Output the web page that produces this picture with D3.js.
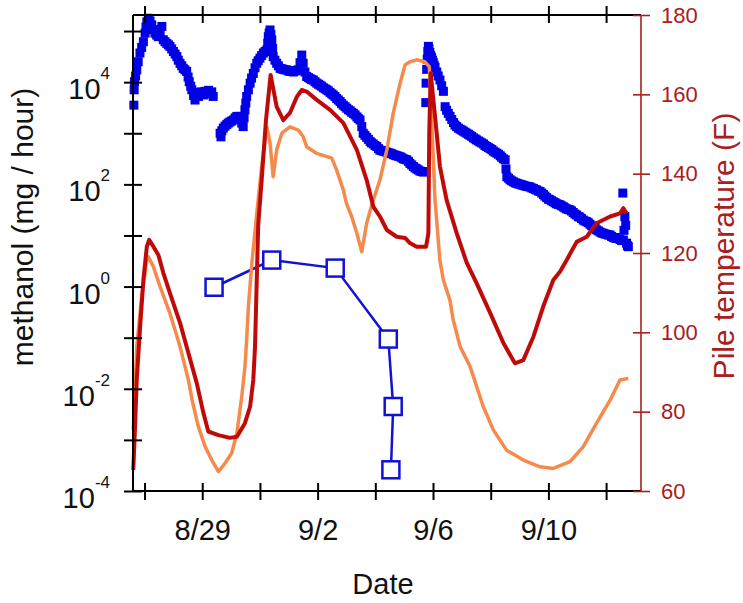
<!DOCTYPE html>
<html>
<head>
<meta charset="utf-8">
<script src="https://cdn.jsdelivr.net/npm/d3@7/dist/d3.min.js"></script>
<style>
  body { margin: 0; background: #ffffff; }
  text { font-family: Arial, "Liberation Sans", sans-serif; }
</style>
</head>
<body>
<div class="chart"></div>
<script>
// x values are days counted from 8/27 00:00
var dateTicks = [0, 2, 4, 6, 8, 10, 12, 14, 16];
var dateLabels = ["", "8/29", "", "9/2", "", "9/6", "", "9/10", ""];
var decadeTicks = [1e-4, 1e-3, 1e-2, 1e-1, 1e0, 1e1, 1e2, 1e3, 1e4, 1e5];
var decadeLabels = [-4, -2, 0, 2, 4];
var tempTicks = [60, 80, 100, 120, 140, 160, 180];

// continuous methanol emission (filled squares), [day, mg/hour]
var methanolFlux = [
  [-0.37, 3550], [-0.36, 7080], [-0.35, 10200], [-0.31, 13200], [-0.27, 17400], [-0.22, 25100],
  [-0.16, 37200], [-0.10, 47900], [-0.04, 61700], [0.02, 91200], [0.05, 120000], [0.08, 151000],
  [0.13, 178000], [0.19, 158000], [0.25, 132000], [0.31, 107000], [0.36, 91200], [0.42, 83200],
  [0.48, 77600], [0.54, 89100], [0.60, 123000], [0.65, 67600], [0.71, 61700], [0.77, 57500],
  [0.83, 53700], [0.88, 50100], [0.94, 44700], [1.00, 39800], [1.06, 35500], [1.12, 31600],
  [1.17, 26900], [1.23, 23400], [1.29, 20900], [1.34, 18600], [1.40, 17400], [1.46, 16200],
  [1.51, 12600], [1.55, 10200], [1.60, 8320], [1.64, 7080], [1.70, 5500], [1.75, 4470],
  [1.81, 6030], [1.87, 5250], [1.92, 6310], [1.98, 6460], [2.04, 5620], [2.10, 6610],
  [2.16, 6030], [2.22, 6920], [2.27, 5890], [2.33, 6460], [2.38, 5250],
  [2.62, 1000], [2.65, 851], [2.68, 1120], [2.73, 1260], [2.79, 1380], [2.85, 1480],
  [2.90, 1580], [2.96, 1660], [3.02, 1740], [3.08, 1820], [3.14, 2000], [3.20, 2140],
  [3.25, 2000], [3.31, 2140], [3.37, 1580], [3.42, 1350], [3.45, 2000], [3.48, 2880],
  [3.51, 3890], [3.54, 5250], [3.60, 7080], [3.66, 9550], [3.71, 12000], [3.77, 14800],
  [3.83, 19100], [3.89, 23400], [3.94, 26300], [4.00, 29500], [4.06, 33100], [4.12, 37200],
  [4.18, 39800], [4.24, 42700], [4.27, 57500], [4.29, 77600], [4.32, 91200], [4.35, 105000],
  [4.38, 85100], [4.41, 67600], [4.44, 45700], [4.46, 31600], [4.52, 26900], [4.58, 23400],
  [4.64, 20900], [4.70, 18600], [4.76, 18200], [4.81, 17800], [4.87, 17400], [4.93, 17400],
  [4.99, 16600], [5.04, 16200], [5.10, 16200], [5.16, 15800], [5.22, 16600], [5.28, 17000],
  [5.33, 17400], [5.39, 24000], [5.45, 33900], [5.50, 23400], [5.56, 15800], [5.62, 12900],
  [5.68, 12300], [5.74, 11700], [5.79, 11200], [5.85, 11000], [5.91, 10200], [5.97, 9550],
  [6.03, 9120], [6.08, 8710], [6.14, 8320], [6.20, 7760], [6.26, 7410], [6.32, 7080],
  [6.37, 6760], [6.43, 6310], [6.49, 5890], [6.54, 5620], [6.60, 5250], [6.66, 4790],
  [6.72, 4470], [6.78, 4170], [6.83, 3800], [6.89, 3550], [6.95, 3310], [7.01, 3090],
  [7.07, 2880], [7.13, 2750], [7.18, 2570], [7.24, 2450], [7.30, 2290], [7.36, 2090],
  [7.41, 1950], [7.47, 1820], [7.53, 1350], [7.58, 1000], [7.64, 912], [7.70, 832],
  [7.76, 759], [7.82, 692], [7.87, 646], [7.93, 617], [7.99, 575], [8.05, 550],
  [8.11, 501], [8.16, 468], [8.22, 457], [8.28, 447], [8.34, 437], [8.40, 427],
  [8.45, 417], [8.51, 407], [8.57, 398], [8.63, 380], [8.69, 372], [8.74, 363],
  [8.80, 355], [8.86, 347], [8.92, 331], [8.97, 316], [9.03, 309], [9.09, 302],
  [9.15, 282], [9.20, 257], [9.26, 240], [9.32, 224], [9.38, 209], [9.44, 200],
  [9.49, 191], [9.55, 182], [9.61, 178], [9.67, 174], [9.72, 178],
  [9.75, 3980], [9.76, 9550], [9.78, 17800], [9.80, 28200], [9.82, 39800], [9.84, 50100],
  [9.86, 44700], [9.89, 38000], [9.92, 33100], [9.95, 30200], [9.98, 26900], [10.01, 24000],
  [10.04, 21400], [10.07, 19500], [10.13, 15800], [10.18, 13200], [10.24, 11000], [10.30, 8510],
  [10.36, 6610], [10.42, 3310], [10.47, 2820], [10.53, 2450], [10.59, 2140], [10.65, 1860],
  [10.71, 1620], [10.76, 1450], [10.82, 1350], [10.88, 1260], [10.94, 1200], [11.00, 1150],
  [11.05, 1100], [11.11, 1050], [11.17, 1000], [11.23, 955], [11.28, 912], [11.34, 871],
  [11.40, 813], [11.46, 776], [11.51, 741], [11.57, 708], [11.63, 676], [11.69, 646],
  [11.75, 617], [11.80, 575], [11.86, 550], [11.92, 525], [11.98, 501], [12.04, 479],
  [12.09, 447], [12.15, 427], [12.21, 407], [12.27, 389], [12.33, 363], [12.38, 339],
  [12.44, 316], [12.50, 302], [12.53, 200], [12.56, 141], [12.62, 132], [12.67, 123],
  [12.73, 117], [12.79, 112], [12.85, 107], [12.90, 105], [12.96, 102], [13.02, 100],
  [13.08, 97.7], [13.13, 95.5], [13.19, 93.3], [13.25, 91.2], [13.31, 90.2], [13.36, 89.1],
  [13.42, 85.1], [13.48, 83.2], [13.54, 79.4], [13.59, 77.6], [13.65, 74.1], [13.71, 72.4],
  [13.77, 67.6], [13.83, 63.1], [13.88, 58.9], [13.94, 55.0], [14.00, 51.3], [14.05, 50.1],
  [14.11, 47.9], [14.17, 45.7], [14.23, 43.7], [14.28, 41.7], [14.34, 40.7], [14.40, 39.8],
  [14.46, 38.0], [14.52, 36.3], [14.57, 34.7], [14.63, 33.1], [14.69, 32.4], [14.75, 31.6],
  [14.80, 30.2], [14.86, 28.2], [14.92, 26.3], [14.98, 25.1], [15.04, 23.4], [15.09, 22.9],
  [15.15, 21.4], [15.21, 20.0], [15.27, 19.1], [15.33, 18.6], [15.38, 17.8], [15.44, 16.6],
  [15.50, 15.5], [15.56, 14.8], [15.62, 13.8], [15.67, 12.9], [15.73, 12.3], [15.79, 11.7],
  [15.85, 11.2], [15.90, 11.0], [15.96, 10.7], [16.02, 10.5], [16.08, 10.2], [16.14, 10.2],
  [16.19, 9.55], [16.25, 9.12], [16.31, 8.91], [16.37, 8.71], [16.43, 9.12], [16.48, 8.32],
  [16.54, 7.94], [16.58, 67.6], [16.60, 8.13], [16.62, 12.6], [16.65, 23.4], [16.68, 15.8],
  [16.71, 7.08], [16.74, 6.31], [16.77, 6.03]
];

// grab samples (open squares)
var sampleDays = [2.41, 4.41, 6.61, 8.45, 8.62, 8.54];
var sampleValues = [0.97, 3.3, 2.3, 0.094, 0.0045, 0.00026];

// pile temperatures, [day, deg F]
var pileTempInner = [
  [-0.39, 65.3], [-0.33, 76.0], [-0.27, 88.0], [-0.16, 100.6], [-0.04, 113.2], [0.08, 121.6],
  [0.16, 123.3], [0.31, 121.6], [0.48, 119.5], [0.65, 115.0], [0.88, 109.9], [1.23, 102.4],
  [1.52, 94.8], [1.81, 87.2], [2.04, 79.7], [2.21, 75.0], [2.56, 74.1], [2.96, 73.4],
  [3.20, 73.7], [3.48, 77.1], [3.66, 81.3], [3.77, 88.0], [3.83, 96.4], [3.89, 113.2],
  [3.94, 127.0], [4.06, 138.4], [4.21, 153.5], [4.37, 164.9], [4.58, 156.9], [4.81, 153.5],
  [5.04, 155.3], [5.28, 159.4], [5.45, 161.1], [5.62, 160.7], [5.97, 158.6], [6.43, 156.1],
  [6.89, 152.8], [7.36, 146.0], [7.70, 138.4], [7.93, 131.7], [8.16, 129.2], [8.40, 125.8],
  [8.74, 124.1], [9.03, 123.8], [9.20, 122.5], [9.43, 121.6], [9.76, 121.6], [9.84, 125.0],
  [9.87, 150.2], [9.92, 165.3], [10.07, 154.4], [10.24, 141.8], [10.47, 133.4], [10.82, 125.0],
  [11.17, 117.5], [11.51, 112.4], [11.98, 104.9], [12.44, 97.3], [12.84, 92.2], [13.13, 93.0],
  [13.48, 98.9], [13.82, 106.5], [14.17, 113.2], [14.40, 115.3], [14.63, 118.2], [14.98, 122.8],
  [15.33, 124.1], [15.67, 127.5], [16.14, 129.2], [16.48, 130.0], [16.60, 131.3], [16.71, 130.0]
];
var pileTempOuter = [
  [-0.39, 75.4], [-0.27, 96.4], [-0.10, 109.0], [0.08, 118.2], [0.13, 119.1], [0.31, 116.5],
  [0.54, 111.5], [0.88, 104.8], [1.23, 96.4], [1.52, 88.0], [1.65, 82.9], [1.85, 76.6],
  [2.10, 71.2], [2.33, 67.8], [2.56, 64.9], [2.79, 67.0], [3.02, 69.5], [3.20, 74.5],
  [3.37, 83.8], [3.48, 91.3], [3.54, 98.1], [3.60, 106.5], [3.72, 117.4], [3.89, 130.0],
  [4.06, 141.8], [4.24, 151.8], [4.35, 147.7], [4.46, 139.2], [4.58, 146.0], [4.76, 150.2],
  [5.04, 151.8], [5.33, 151.0], [5.50, 149.3], [5.62, 146.8], [5.97, 145.1], [6.32, 144.3],
  [6.49, 143.9], [6.66, 140.9], [6.89, 135.9], [7.00, 132.5], [7.18, 129.2], [7.36, 125.0],
  [7.53, 120.3], [7.70, 127.5], [7.93, 133.4], [8.16, 138.4], [8.40, 146.0], [8.62, 155.2],
  [8.86, 162.8], [9.03, 167.4], [9.20, 168.2], [9.43, 168.7], [9.72, 168.2], [9.87, 167.0],
  [9.95, 154.4], [10.07, 133.4], [10.24, 118.0], [10.36, 113.2], [10.59, 108.0], [10.70, 103.1],
  [10.94, 96.4], [11.29, 91.3], [11.74, 81.3], [12.09, 75.4], [12.55, 70.3], [13.13, 67.8],
  [13.71, 66.1], [14.17, 65.7], [14.75, 67.4], [15.21, 71.2], [15.67, 77.1], [16.14, 82.9],
  [16.48, 88.0], [16.77, 88.4]
];

var axisRed = "#a8201c";

var canvas = d3.select(".chart").append("svg")
    .attr("width", 743)
    .attr("height", 603);

var x = d3.scaleLinear().domain([-0.40, 17.21]).range([133, 641]);
var yLog = d3.scaleLog().domain([1e-4, 2.06e5]).range([491, 15]);
var yTemp = d3.scaleLinear().domain([60, 180]).range([491, 15]);

// methanol, filled squares
canvas.append("g")
    .selectAll("rect")
    .data(methanolFlux)
    .enter()
        .append("rect")
        .attr("x", function (d) { return x(d[0]) - 4.5; })
        .attr("y", function (d) { return yLog(d[1]) - 4.5; })
        .attr("width", 9)
        .attr("height", 9)
        .attr("fill", "#0000e8");

// grab samples
var samples = sampleDays.map(function (d, i) { return [d, sampleValues[i]]; });

canvas.append("path")
    .datum(samples)
    .attr("fill", "none")
    .attr("stroke", "#1212d6")
    .attr("stroke-width", 2.5)
    .attr("d", d3.line()
        .x(function (d) { return x(d[0]); })
        .y(function (d) { return yLog(d[1]); }));

canvas.append("g")
    .selectAll("rect")
    .data(samples)
    .enter()
        .append("rect")
        .attr("x", function (d) { return x(d[0]) - 8.5; })
        .attr("y", function (d) { return yLog(d[1]) - 8.5; })
        .attr("width", 17)
        .attr("height", 17)
        .attr("fill", "#ffffff")
        .attr("stroke", "#1212d6")
        .attr("stroke-width", 2.5);

// temperatures
var tempLine = d3.line()
    .x(function (d) { return x(d[0]); })
    .y(function (d) { return yTemp(d[1]); });

canvas.append("path")
    .datum(pileTempOuter)
    .attr("fill", "none")
    .attr("stroke", "#f58a4c")
    .attr("stroke-width", 3.5)
    .attr("stroke-linejoin", "round")
    .attr("d", tempLine);

canvas.append("path")
    .datum(pileTempInner)
    .attr("fill", "none")
    .attr("stroke", "#c00a0a")
    .attr("stroke-width", 4)
    .attr("stroke-linejoin", "round")
    .attr("d", tempLine);

// axes
var bottomAxis = canvas.append("g")
    .attr("transform", "translate(0,491)")
    .call(d3.axisBottom(x).tickValues(dateTicks).tickFormat(function (d, i) { return dateLabels[i]; }));
bottomAxis.selectAll(".tick line").attr("y1", -8).attr("y2", 9);
bottomAxis.selectAll(".tick text").attr("y", 49).attr("dy", 0).attr("font-size", "29px").attr("fill", "#111111");

var topAxis = canvas.append("g")
    .attr("transform", "translate(0,15)")
    .call(d3.axisTop(x).tickValues(dateTicks).tickFormat(""));
topAxis.selectAll(".tick line").attr("y1", 8).attr("y2", -9);

var leftAxis = canvas.append("g")
    .attr("transform", "translate(133,0)")
    .call(d3.axisLeft(yLog).tickValues(decadeTicks).tickFormat(""));
leftAxis.selectAll(".tick line").attr("x1", 9).attr("x2", -9);

canvas.selectAll("g path.domain").attr("stroke", "#000000").attr("stroke-width", 2);
canvas.selectAll("g .tick line").attr("stroke", "#000000").attr("stroke-width", 2);
[bottomAxis, topAxis, leftAxis].forEach(function (a) {
    a.select("path.domain").attr("d", a === leftAxis ? "M0,15V491" : "M133,0H641");
});

var rightAxis = canvas.append("g")
    .attr("transform", "translate(641,0)")
    .call(d3.axisRight(yTemp).tickValues(tempTicks));
rightAxis.select("path.domain").attr("d", "M0,15V491").attr("stroke", axisRed).attr("stroke-width", 1.6);
rightAxis.selectAll(".tick line").attr("x1", -8).attr("x2", 9).attr("stroke", axisRed).attr("stroke-width", 1.6);
rightAxis.selectAll(".tick text")
    .attr("x", 20)
    .attr("fill", axisRed)
    .attr("font-size", "22px");

// log tick labels 10^n
var leftLabels = canvas.append("g").selectAll("text")
    .data(decadeLabels)
    .enter()
        .append("text")
        .attr("x", 110)
        .attr("y", function (d) { return yLog(Math.pow(10, d)) + 17; })
        .attr("text-anchor", "end")
        .attr("fill", "#111111");
leftLabels.append("tspan").attr("font-size", "29px").text("10");
leftLabels.append("tspan").attr("font-size", "17px").attr("dy", -20).text(function (d) { return d; });

// titles
canvas.append("text")
    .attr("transform", "translate(33,227) rotate(-90)")
    .attr("text-anchor", "middle")
    .attr("font-size", "30px")
    .attr("fill", "#111111")
    .text("methanol (mg / hour)");

canvas.append("text")
    .attr("transform", "translate(734,246) rotate(-90)")
    .attr("text-anchor", "middle")
    .attr("font-size", "30px")
    .attr("fill", axisRed)
    .text("Pile temperature (F)");

canvas.append("text")
    .attr("x", 383)
    .attr("y", 594)
    .attr("text-anchor", "middle")
    .attr("font-size", "29px")
    .attr("fill", "#111111")
    .text("Date");
</script>
</body>
</html>
